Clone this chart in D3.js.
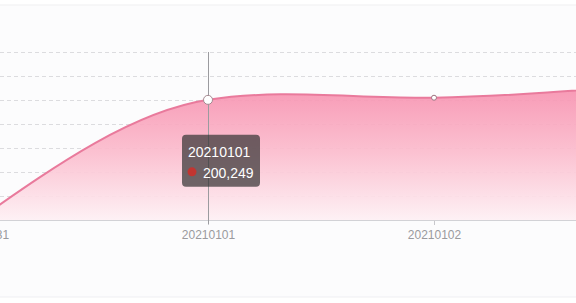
<!DOCTYPE html>
<html>
<head>
<meta charset="utf-8">
<script src="https://cdn.jsdelivr.net/npm/d3@7"></script>
<style>
  body { margin: 0; background: #ffffff; }
  svg { display: block; font-family: "Liberation Sans", Arial, sans-serif; }
</style>
</head>
<body>
<script>
// data
var categories = ['20201231', '20210101', '20210102', '20210103'];
var values = [5000, 200249, 203800, 226500];
var yTicks = [40000, 80000, 120000, 160000, 200000, 240000, 280000];
var hoverIndex = 1;

var width = 576, height = 303;
var TENSION = 0.6;

var svg = d3.select('body').append('svg')
    .attr('width', width)
    .attr('height', height);

// panel background
svg.append('rect')
    .attr('x', -1).attr('y', 5)
    .attr('width', width + 2).attr('height', 292)
    .style('fill', '#fcfcfd')
    .style('stroke', '#efeff2');

var x = d3.scalePoint()
    .domain(categories)
    .range([-18, 660]);

var y = d3.scaleLinear()
    .domain([0, 280000])
    .range([220, 52]);

// smooth curve: cardinal-like tangents inside, quadratic end condition
function curveSoft(context) {
    return {
        areaStart: function() { this._line = 0; },
        areaEnd: function() { this._line = NaN; },
        lineStart: function() { this._x = []; this._y = []; },
        point: function(px, py) { this._x.push(+px); this._y.push(+py); },
        lineEnd: function() {
            var xs = this._x, ys = this._y, n = xs.length, i;
            if (n) {
                this._line ? context.lineTo(xs[0], ys[0]) : context.moveTo(xs[0], ys[0]);
                if (n === 2) context.lineTo(xs[1], ys[1]);
                else if (n > 2) {
                    var m = new Array(n);
                    for (i = 1; i < n - 1; i++) m[i] = TENSION * (ys[i+1] - ys[i-1]) / (xs[i+1] - xs[i-1]);
                    m[0] = (3 * (ys[1] - ys[0]) / (xs[1] - xs[0]) - m[1]) / 2;
                    m[n-1] = (3 * (ys[n-1] - ys[n-2]) / (xs[n-1] - xs[n-2]) - m[n-2]) / 2;
                    for (i = 0; i < n - 1; i++) {
                        var h = (xs[i+1] - xs[i]) / 3;
                        context.bezierCurveTo(xs[i] + h, ys[i] + m[i] * h,
                            xs[i+1] - h, ys[i+1] - m[i+1] * h, xs[i+1], ys[i+1]);
                    }
                }
            }
            if (this._line || (this._line !== 0 && n === 1)) context.closePath();
            this._line = 1 - this._line;
        }
    };
}

var data = categories.map(function(c, i) { return {cat: c, val: values[i]}; });

//gradient for the area
var defs = svg.append('defs');
var grad = defs.append('linearGradient')
    .attr('id', 'areaGrad')
    .attr('x1', 0).attr('y1', 0).attr('x2', 0).attr('y2', 1);
grad.append('stop').attr('offset', '0%').attr('stop-color', '#f78fae');
grad.append('stop').attr('offset', '50%').attr('stop-color', '#fbbccd');
grad.append('stop').attr('offset', '100%').attr('stop-color', '#fef0f4');

//grid lines
svg.append('g')
    .selectAll('line')
    .data(yTicks)
    .enter()
    .append('line')
    .attr('x1', 0).attr('x2', width)
    .attr('y1', function(d) { return y(d) + 0.5; })
    .attr('y2', function(d) { return y(d) + 0.5; })
    .style('stroke', '#dcdcdf')
    .style('stroke-dasharray', '4,3');

//area + line
var area = d3.area()
    .x(function(d) { return x(d.cat); })
    .y0(y(0))
    .y1(function(d) { return y(d.val); })
    .curve(curveSoft);

var line = d3.line()
    .x(function(d) { return x(d.cat); })
    .y(function(d) { return y(d.val); })
    .curve(curveSoft);

svg.append('path')
    .datum(data)
    .attr('d', area)
    .style('fill', 'url(#areaGrad)')
    .style('opacity', 0.92);

svg.append('path')
    .datum(data)
    .attr('d', line)
    .style('fill', 'none')
    .style('stroke', '#e97a9c')
    .style('stroke-width', 2);

//x axis (only the ticks that reach into the picture)
var shown = categories.filter(function(c) { return x(c) < width; });
var xAxis = svg.append('g')
    .attr('transform', 'translate(0,' + y(0) + ')')
    .call(d3.axisBottom(x).tickValues(shown).tickSize(5).tickPadding(5));
xAxis.select('.domain').remove();
xAxis.append('line')
    .attr('x1', 0).attr('x2', width)
    .attr('y1', 0.5).attr('y2', 0.5)
    .style('stroke', '#d2d2d6');
xAxis.selectAll('.tick line')
    .style('stroke', '#c8c8cc');
xAxis.selectAll('.tick text')
    .style('fill', '#9a9a9e')
    .style('font-size', '12px')
    .style('font-family', '"Liberation Sans", Arial, sans-serif');

//axis pointer
var hx = x(categories[hoverIndex]);
svg.append('line')
    .attr('x1', hx + 0.5).attr('x2', hx + 0.5)
    .attr('y1', y(280000)).attr('y2', y(0) + 4)
    .style('stroke', '#9b9b9f')
    .style('stroke-width', 1);

//symbols
svg.selectAll('circle.pt')
    .data(data)
    .enter()
    .append('circle')
    .attr('class', 'pt')
    .attr('cx', function(d) { return x(d.cat); })
    .attr('cy', function(d) { return y(d.val); })
    .attr('r', function(d, i) { return i === hoverIndex ? 4.5 : 2.5; })
    .style('fill', '#ffffff')
    .style('stroke', function(d, i) { return i === hoverIndex ? '#a58a92' : '#9e7380'; })
    .style('stroke-width', 1);

//tooltip
var hy = y(values[hoverIndex]);
var tip = svg.append('g')
    .attr('transform', 'translate(' + (hx - 26) + ',' + (hy + 35) + ')');
tip.append('rect')
    .attr('width', 78).attr('height', 52)
    .attr('rx', 4)
    .style('fill', 'rgba(50,50,50,0.7)');
tip.append('text')
    .attr('x', 6).attr('y', 22)
    .style('fill', '#ffffff')
    .style('font-size', '14px')
    .text(categories[hoverIndex]);
tip.append('circle')
    .attr('cx', 10).attr('cy', 37)
    .attr('r', 4.5)
    .style('fill', '#c23531');
tip.append('text')
    .attr('x', 21).attr('y', 43)
    .style('fill', '#ffffff')
    .style('font-size', '14px')
    .text(d3.format(',')(values[hoverIndex]));
</script>
</body>
</html>
